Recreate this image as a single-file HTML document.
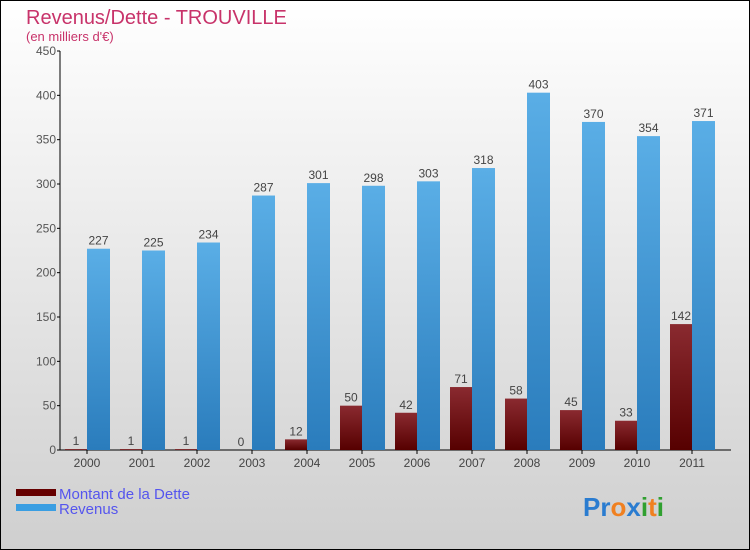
<!DOCTYPE html>
<html><head><meta charset="utf-8"><style>
body{margin:0}
#wrap{width:748px;height:548px;border:1px solid #000;background:linear-gradient(#ffffff,#cfcfcf);position:relative;overflow:hidden;font-family:"Liberation Sans",sans-serif}
</style></head><body>
<div id="wrap">
<svg id="svg" width="748" height="548" xmlns="http://www.w3.org/2000/svg">
<defs>
<linearGradient id="gd" x1="0" y1="0" x2="0" y2="1"><stop offset="0" stop-color="#8a2a30"/><stop offset="1" stop-color="#560000"/></linearGradient>
<linearGradient id="gr" x1="0" y1="0" x2="0" y2="1"><stop offset="0" stop-color="#5aaee6"/><stop offset="1" stop-color="#2a7cbc"/></linearGradient>
</defs>
<text x="25" y="23" font-size="20" fill="#c8336a">Revenus/Dette - TROUVILLE</text>
<text x="25" y="40" font-size="13" fill="#c8336a">(en milliers d'€)</text>
<g id="plot"></g>
<rect x="15" y="488" width="40" height="7" fill="#660000"/>
<text x="58" y="498" font-size="15" fill="#5555ee">Montant de la Dette</text>
<rect x="15" y="503" width="40" height="7" fill="#3a9ee2"/>
<text x="58" y="513" font-size="15" fill="#5555ee">Revenus</text>
<text x="582" y="515" font-size="26" font-weight="bold"><tspan fill="#2a7cd0">Pr</tspan><tspan fill="#f08020">o</tspan><tspan fill="#2a7cd0">x</tspan><tspan fill="#30a030">i</tspan><tspan fill="#f08020">t</tspan><tspan fill="#30a030">i</tspan></text>
</svg>
</div>
<script>
const years=["2000","2001","2002","2003","2004","2005","2006","2007","2008","2009","2010","2011"];
const dette=[1,1,1,0,12,50,42,71,58,45,33,142];
const revenus=[227,225,234,287,301,298,303,318,403,370,354,371];
const yTicks=[0,50,100,150,200,250,300,350,400,450];
const NS="http://www.w3.org/2000/svg";
const g=document.getElementById("plot");
const y0=449,k=399/450;
function Y(v){return y0-v*k;}
function X(i){return 86+i*55;}
function mk(t,a,txt){const e=document.createElementNS(NS,t);for(const n in a)e.setAttribute(n,a[n]);if(txt!==undefined)e.textContent=txt;g.appendChild(e);return e;}
let e=mk("line",{x1:59,y1:Y(0),x2:59,y2:Y(450),stroke:"#000"});


e=mk("line",{x1:59,y1:Y(0),x2:730,y2:Y(0),stroke:"#000"});


yTicks.forEach(v=>{
 let t=mk("line",{x1:56,x2:59,y1:Y(v),y2:Y(v),stroke:"#000"});
 
 
 let l=mk("text",{x:55,y:Y(v)+4,"font-size":12,fill:"#555","text-anchor":"end"},String(v));
 
 
});
years.forEach((yr,i)=>{
 const c=X(i);
 let t=mk("line",{x1:c,x2:c,y1:Y(0),y2:Y(0)+4,stroke:"#000"});
 
 
 let l=mk("text",{x:c,y:466,"font-size":12,fill:"#444","text-anchor":"middle"},yr);
 
 
 let b=mk("rect",{x:c-22,y:Y(dette[i]),width:22,height:Y(0)-Y(dette[i]),fill:"url(#gd)"});
 
 
 let bl=mk("text",{x:c-11,y:Y(dette[i])-4,"font-size":12,fill:"#444","text-anchor":"middle"},String(dette[i]));
 
 
 let r=mk("rect",{x:c,y:Y(revenus[i]),width:23,height:Y(0)-Y(revenus[i]),fill:"url(#gr)"});
 
 
 let rl=mk("text",{x:c+11.5,y:Y(revenus[i])-4,"font-size":12,fill:"#444","text-anchor":"middle"},String(revenus[i]));
 
 
});
</script>
</body></html>
